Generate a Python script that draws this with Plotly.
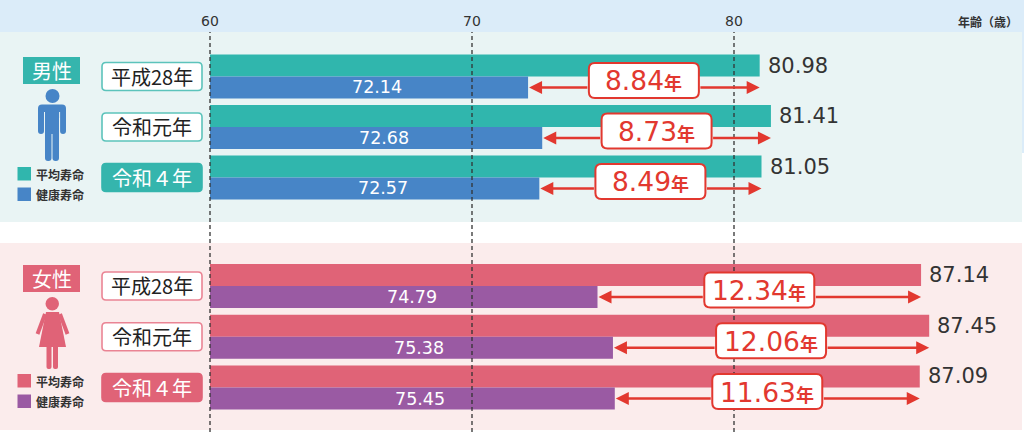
import plotly.graph_objects as go

# ---------------- data ----------------
years = ["平成28年", "令和元年", "令和４年"]
male_avg = [80.98, 81.41, 81.05]
male_healthy = [72.14, 72.68, 72.57]
male_gap = ["8.84", "8.73", "8.49"]
female_avg = [87.14, 87.45, 87.09]
female_healthy = [74.79, 75.38, 75.45]
female_gap = ["12.34", "12.06", "11.63"]
x_ticks = [60, 70, 80]
series_names = ["平均寿命", "健康寿命"]
gender_names = ["男性", "女性"]
axis_title = "年齢（歳）"
gap_unit = "年"
BASE_AGE = 60

# ---------------- layout constants ----------------
W, H = 1024, 432
X_PX0 = 210.0      # pixel of BASE_AGE
PPY = 26.2         # pixels per year
XMIN = BASE_AGE - X_PX0 / PPY
XMAX = XMIN + W / PPY
BARGAP = 0.13
OFF = (1 - BARGAP) / 4   # centre offset of each bar inside a group

FONT = "Noto Sans CJK JP, Noto Sans, sans-serif"
NUMFONT = "DejaVu Sans, Noto Sans CJK JP, sans-serif"
RED = "#e2382f"
DARK = "#333333"

panels = [
    dict(top=51.25, step=50.5, avg=male_avg, hl=male_healthy, gap=male_gap,
         c_avg="#30b6ad", c_hl="#4785c7", bg="#e9f4f4", accent="#35b5ad",
         border="#5cc3bb", yref="y", name=gender_names[0]),
    dict(top=260.6, step=50.75, avg=female_avg, hl=female_healthy, gap=female_gap,
         c_avg="#e06377", c_hl="#9a5aa3", bg="#fbecec", accent="#e06377",
         border="#ea8494", yref="y2", name=gender_names[1]),
]


def pxx(x):
    return x / W


def pxy(y):
    return 1 - y / H


def dx(v):
    return X_PX0 + (v - BASE_AGE) * PPY


def cat_px(p, i, off=0.0):
    return p["top"] + (i + 0.5 + off) * p["step"]


def rrect(x0, y0, x1, y1, r):
    """rounded rectangle path in paper coords from pixel box"""
    pts = [
        f"M{pxx(x0 + r)},{pxy(y0)}",
        f"L{pxx(x1 - r)},{pxy(y0)}",
        f"Q{pxx(x1)},{pxy(y0)} {pxx(x1)},{pxy(y0 + r)}",
        f"L{pxx(x1)},{pxy(y1 - r)}",
        f"Q{pxx(x1)},{pxy(y1)} {pxx(x1 - r)},{pxy(y1)}",
        f"L{pxx(x0 + r)},{pxy(y1)}",
        f"Q{pxx(x0)},{pxy(y1)} {pxx(x0)},{pxy(y1 - r)}",
        f"L{pxx(x0)},{pxy(y0 + r)}",
        f"Q{pxx(x0)},{pxy(y0)} {pxx(x0 + r)},{pxy(y0)}",
        "Z",
    ]
    return " ".join(pts)


def rect_shape(x0, y0, x1, y1, color, layer="above", line_color=None, lw=0):
    return dict(type="rect", xref="paper", yref="paper",
                x0=pxx(x0), x1=pxx(x1), y0=pxy(y1), y1=pxy(y0),
                fillcolor=color, line=dict(width=lw, color=line_color or color),
                layer=layer)


def note(**kw):
    d = dict(showarrow=False, xanchor="center", yanchor="middle")
    d.update(kw)
    return d


fig = go.Figure()
shapes = []
annotations = []

# backgrounds
shapes.append(rect_shape(0, 0, W, 32, "#dbecf9", layer="below"))
shapes.append(rect_shape(1021, 32, W, 153, "#dbecf9", layer="below"))
shapes.append(rect_shape(0, 32, 1022, 222, panels[0]["bg"], layer="below"))
shapes.append(rect_shape(0, 243, 1022, 430, panels[1]["bg"], layer="below"))

# bars
for p in panels:
    for k, (vals, col) in enumerate([(p["avg"], p["c_avg"]), (p["hl"], p["c_hl"])]):
        fig.add_trace(go.Bar(
            y=years, x=[v - BASE_AGE for v in vals], base=BASE_AGE,
            orientation="h", marker=dict(color=col, line=dict(width=0)),
            name=series_names[k], showlegend=False, hoverinfo="skip",
            yaxis=p["yref"], xaxis="x",
        ))

# dashed reference lines (above bars)
for t in x_ticks:
    shapes.append(dict(type="line", xref="x", yref="paper", x0=t, x1=t,
                       y0=0, y1=pxy(32), layer="above",
                       line=dict(color=DARK, width=1.3, dash="4px,3px")))
    annotations.append(note(x=t, y=pxy(21), xref="x", yref="paper", text=str(t),
                            font=dict(size=14, color=DARK, family=NUMFONT)))

annotations.append(note(x=pxx(1020), y=pxy(21), xref="paper", yref="paper",
                        text=f"<b>{axis_title}</b>", xanchor="right",
                        font=dict(size=12, color=DARK, family=FONT)))

for pi, p in enumerate(panels):
    yr = p["yref"]
    for i, yname in enumerate(years):
        a, h = p["avg"][i], p["hl"][i]
        # value labels
        annotations.append(note(x=a, y=i - OFF, xref="x", yref=yr, text=f"{a:.2f}",
                                xanchor="left", xshift=6,
                                font=dict(size=21, color=DARK, family=NUMFONT)))
        annotations.append(note(x=(BASE_AGE + h) / 2, y=i + OFF, xref="x", yref=yr,
                                text=f"{h:.2f}", xshift=8,
                                font=dict(size=17.5, color="white", family=NUMFONT)))
        # arrows split around the difference box
        mid = (a + h) / 2
        half = 55 / PPY
        yarrow = i + OFF
        annotations.append(dict(x=h + 1 / PPY, y=yarrow, ax=mid - half, ay=yarrow,
                                xref="x", yref=yr, axref="x", ayref=yr, text="",
                                showarrow=True, arrowhead=2, arrowsize=1.0,
                                arrowwidth=2.6, arrowcolor=RED))
        annotations.append(dict(x=a, y=yarrow, ax=mid + half, ay=yarrow,
                                xref="x", yref=yr, axref="x", ayref=yr, text="",
                                showarrow=True, arrowhead=2, arrowsize=1.0,
                                arrowwidth=2.6, arrowcolor=RED))
        # difference box
        cx = dx(mid)
        cy = cat_px(p, i, OFF) - 7
        shapes.append(dict(type="path", xref="paper", yref="paper",
                           path=rrect(cx - 55, cy - 17.5, cx + 55, cy + 17.5, 6),
                           fillcolor="white", line=dict(color=RED, width=2), layer="above"))
        annotations.append(note(x=pxx(cx), y=pxy(cy + 0.5), xref="paper", yref="paper",
                                text=(f"{p['gap'][i]}<span style='font-size:18px;"
                                      f"font-family:Noto Sans CJK JP'><b>{gap_unit}</b></span>"),
                                font=dict(size=26.5, color=RED, family=NUMFONT)))
        # year label boxes
        ly = cat_px(p, i)
        filled = i == len(years) - 1
        shapes.append(dict(type="path", xref="paper", yref="paper",
                           path=rrect(102, ly - 14, 202, ly + 14, 4),
                           fillcolor=p["accent"] if filled else "white",
                           line=dict(color=p["accent"] if filled else p["border"], width=1.6),
                           layer="above"))
        annotations.append(note(x=pxx(152), y=pxy(ly), xref="paper", yref="paper",
                                text=yname,
                                font=dict(size=20, color="white" if filled else "#222222",
                                          family=FONT)))

    # gender label
    gy = 70.5 if pi == 0 else 278.5
    shapes.append(rect_shape(23, gy - 13.5, 80, gy + 13.5, p["accent"]))
    annotations.append(note(x=pxx(51.5), y=pxy(gy), xref="paper", yref="paper",
                            text=p["name"],
                            font=dict(size=20, color="white", family=FONT)))

    # legend squares
    ly0 = 167 if pi == 0 else 374
    for k, col in enumerate([p["c_avg"], p["c_hl"]]):
        yy = ly0 + k * 20.5
        shapes.append(rect_shape(17.5, yy, 31, yy + 13.5, col))
        annotations.append(note(x=pxx(34), y=pxy(yy + 7), xref="paper", yref="paper",
                                text=f"<b>{series_names[k]}</b>", xanchor="left",
                                font=dict(size=12, color=DARK, family=FONT)))

# male icon
mc = panels[0]["c_hl"]
shapes.append(dict(type="circle", xref="paper", yref="paper",
                   x0=pxx(45.5), x1=pxx(59.5), y0=pxy(103), y1=pxy(89),
                   fillcolor=mc, line=dict(width=0), layer="above"))
shapes.append(dict(type="path", xref="paper", yref="paper",
                   path=rrect(38, 104.5, 66, 118, 4), fillcolor=mc,
                   line=dict(width=0), layer="above"))
shapes.append(dict(type="path", xref="paper", yref="paper",
                   path=rrect(38, 108, 44, 134, 3), fillcolor=mc,
                   line=dict(width=0), layer="above"))
shapes.append(dict(type="path", xref="paper", yref="paper",
                   path=rrect(60, 108, 66, 134, 3), fillcolor=mc,
                   line=dict(width=0), layer="above"))
shapes.append(rect_shape(45, 108, 59, 134, mc))
shapes.append(dict(type="path", xref="paper", yref="paper",
                   path=rrect(45, 128, 51.5, 161, 3), fillcolor=mc,
                   line=dict(width=0), layer="above"))
shapes.append(dict(type="path", xref="paper", yref="paper",
                   path=rrect(52.5, 128, 59, 161, 3), fillcolor=mc,
                   line=dict(width=0), layer="above"))
for gx in (44.2, 59.3):
    shapes.append(dict(type="line", xref="paper", yref="paper",
                       x0=pxx(gx + 0.3), x1=pxx(gx + 0.3), y0=pxy(134), y1=pxy(112),
                       line=dict(color=panels[0]["bg"], width=1), layer="above"))

# female icon
fc = panels[1]["c_avg"]
shapes.append(dict(type="circle", xref="paper", yref="paper",
                   x0=pxx(45.5), x1=pxx(59), y0=pxy(310.5), y1=pxy(297),
                   fillcolor=fc, line=dict(width=0), layer="above"))
shapes.append(dict(type="path", xref="paper", yref="paper",
                   path=(f"M{pxx(46)},{pxy(312)} L{pxx(59)},{pxy(312)} "
                         f"L{pxx(66)},{pxy(347)} L{pxx(39)},{pxy(347)} Z"),
                   fillcolor=fc, line=dict(width=0), layer="above"))
for (x0, x1) in ((45, 37.5), (60, 67.5)):
    shapes.append(dict(type="line", xref="paper", yref="paper",
                       x0=pxx(x0), x1=pxx(x1), y0=pxy(314), y1=pxy(334),
                       line=dict(color=fc, width=4), layer="above"))
shapes.append(dict(type="path", xref="paper", yref="paper",
                   path=rrect(46.5, 343, 51.5, 369, 2), fillcolor=fc,
                   line=dict(width=0), layer="above"))
shapes.append(dict(type="path", xref="paper", yref="paper",
                   path=rrect(53, 343, 58, 369, 2), fillcolor=fc,
                   line=dict(width=0), layer="above"))


def ydomain(p):
    return [pxy(p["top"] + 3 * p["step"]), pxy(p["top"])]


fig.update_layout(
    width=W, height=H, margin=dict(l=0, r=0, t=0, b=0),
    paper_bgcolor="white", plot_bgcolor="rgba(0,0,0,0)",
    barmode="group", bargap=BARGAP, bargroupgap=0,
    font=dict(family=FONT, color=DARK),
    xaxis=dict(range=[XMIN, XMAX], domain=[0, 1], visible=False, anchor="y",
               fixedrange=True),
    yaxis=dict(domain=ydomain(panels[0]), type="category", categoryarray=years,
               range=[2.5, -0.5], visible=False, anchor="x", fixedrange=True),
    yaxis2=dict(domain=ydomain(panels[1]), type="category", categoryarray=years,
                range=[2.5, -0.5], visible=False, anchor="x", fixedrange=True),
    shapes=shapes, annotations=annotations, showlegend=False,
)

fig.write_html("out.html", config=dict(displayModeBar=False, staticPlot=True),
               post_script="document.body.style.margin='0';")
